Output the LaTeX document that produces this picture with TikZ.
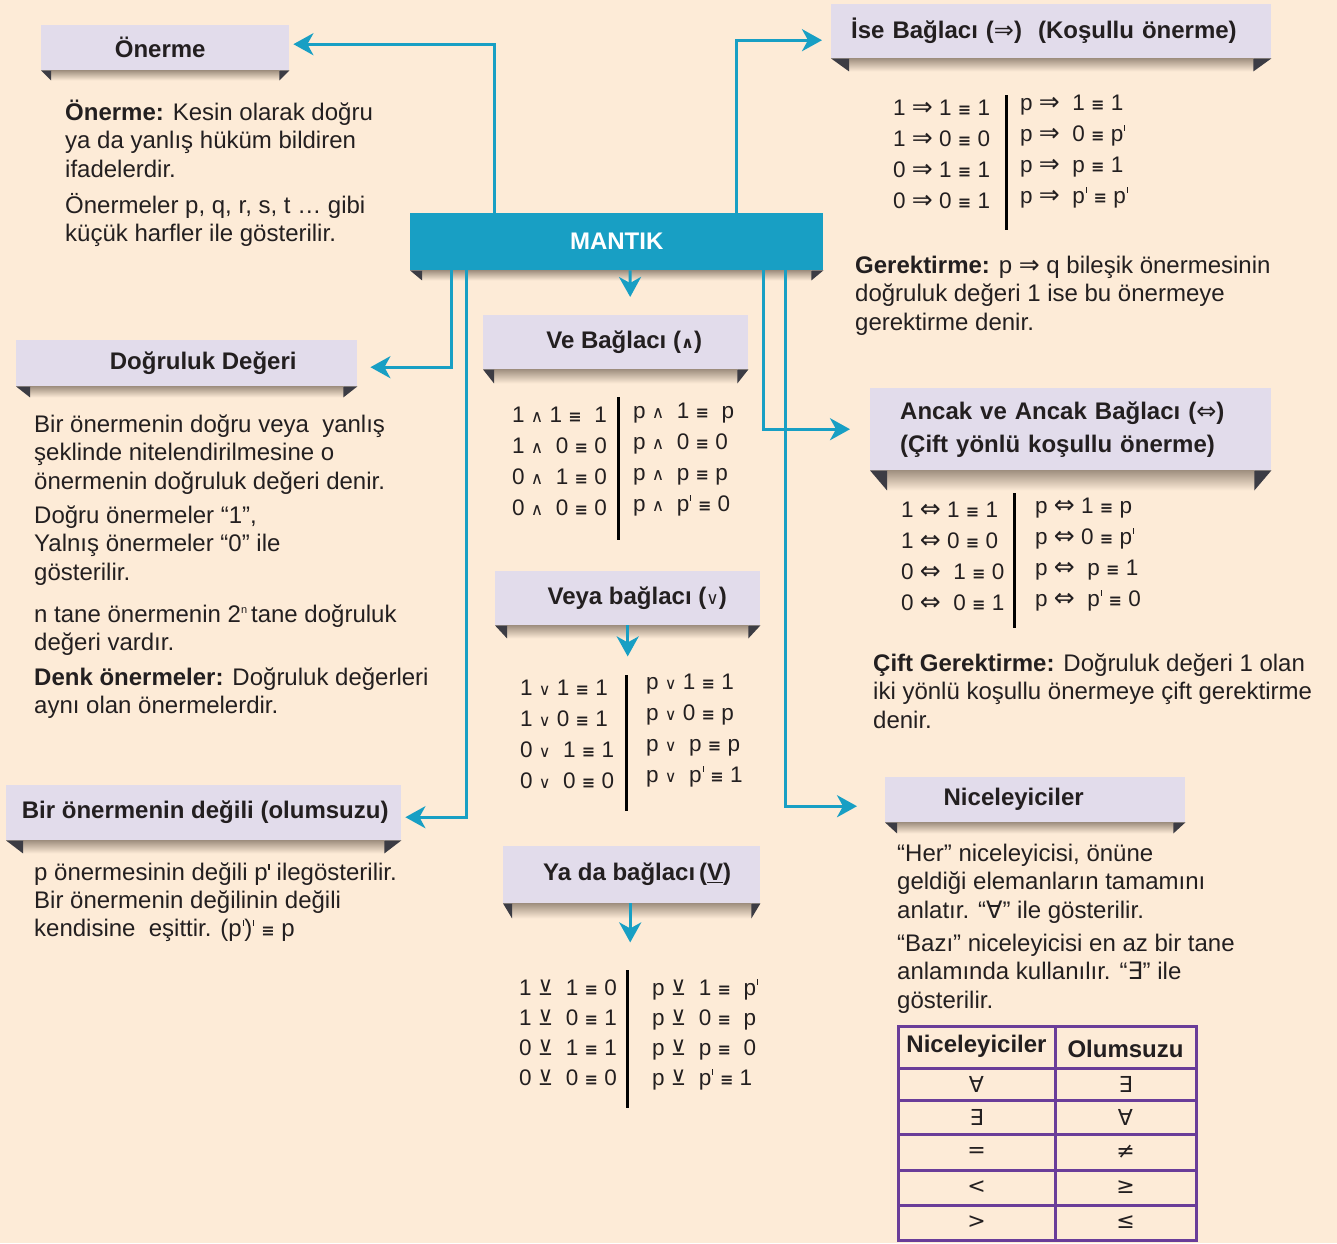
\documentclass[tikz,border=0pt]{standalone}
\usepackage{fontspec}
\setmainfont{Liberation Sans}
\newfontfamily\symf{DejaVu Sans}
\usetikzlibrary{arrows.meta,calc}
\definecolor{bg}{HTML}{FDEBD7}
\definecolor{lav}{HTML}{E2DCEB}
\definecolor{teal}{HTML}{189FC4}
\definecolor{tri}{HTML}{3C3C44}
\definecolor{shd}{HTML}{A09080}
\definecolor{ink}{HTML}{231F20}
\definecolor{purp}{HTML}{6A3D99}
\newcommand\Simp{{\symf\fontsize{25}{25}\selectfont ⇒}}
\newcommand\Siff{{\symf\fontsize{25}{25}\selectfont ⇔}}
\newcommand\Sand{{\symf\fontsize{17}{17}\selectfont ∧}}
\newcommand\Sor{{\symf\fontsize{16}{16}\selectfont ∨}}
\newcommand\Sxor{{\symf\fontsize{21}{21}\selectfont ⊻}}
\newcommand\Seq{{\symf\bfseries\fontsize{16}{16}\selectfont ≡}}
\newcommand\Sall{{\symf ∀}}
\newcommand\Sex{{\symf ∃}}
\newcommand\pr{\kern0.8pt\rule[10.5pt]{1.1pt}{5.5pt}\kern0.5pt}
\newcommand\ribbon[3]{%
  \shade[top color=shd,bottom color=bg] ($(#1.south west)+(#2pt,0pt)$) rectangle ($(#1.south east)+(-#2pt,-#3pt)$);
  \fill[tri] (#1.south west) -- ++(#2pt,0pt) -- ++(0pt,-#3pt) -- cycle;
  \fill[tri] (#1.south east) -- ++(-#2pt,0pt) -- ++(0pt,-#3pt) -- cycle;}
\begin{document}
\begin{tikzpicture}[x=1pt,y=-1pt,
  hdr/.style={fill=lav,inner sep=0pt,anchor=north west,text=ink,
    font=\bfseries\fontsize{24}{33}\selectfont},
  body/.style={anchor=base west,align=left,inner sep=0pt,text=ink,
    font=\fontsize{24}{28.5}\selectfont},
  tab/.style={anchor=base west,align=left,inner sep=0pt,text=ink,
    font=\fontsize{22.5}{31}\selectfont},
  bar/.style={draw=black,line width=3pt},
  conn/.style={draw=teal,line width=3pt,
    -{Stealth[length=20pt,width=22pt,inset=6pt]}},
  qline/.style={draw=purp,line width=3pt},
  qt/.style={inner sep=0pt,text=ink,font=\fontsize{22}{22}\selectfont}]
\fill[bg] (0,0) rectangle (1337,1243);
\useasboundingbox (0,0) rectangle (1337,1243);

% header boxes
\node[hdr,minimum width=248pt,minimum height=45pt] (oner) at (41,25) {\hspace*{-10pt}Önerme};
\node[hdr,minimum width=440pt,minimum height=54pt,text width=400pt,inner xsep=20pt,align=left] (ise) at (831,4)
  {İse Bağlacı ({\symf\mdseries ⇒})\ \ (Koşullu önerme)};
\node[hdr,minimum width=341pt,minimum height=46pt] (dog) at (16,340) {\hspace*{33pt}Doğruluk Değeri};
\node[hdr,minimum width=265pt,minimum height=54pt] (ve) at (483,315)
  {\hspace*{17pt}Ve Bağlacı ({\symf\fontsize{16}{16}\selectfont ∧})};
\node[hdr,minimum width=265pt,minimum height=54pt] (veya) at (495,571)
  {\hspace*{19pt}Veya bağlacı ({\symf\mdseries\fontsize{17}{17}\selectfont ∨})};
\node[hdr,minimum width=257pt,minimum height=57pt] (yada) at (503,846)
  {\hspace*{11pt}Ya da bağlacı\,(\underline{V})};
\node[hdr,minimum width=395pt,minimum height=55pt] (deg) at (6,785) {\hspace*{3pt}Bir önermenin değili (olumsuzu)};
\node[hdr,minimum width=401pt,minimum height=82pt,text width=341pt,inner xsep=30pt,align=left] (anc) at (870,388)
  {Ancak ve Ancak Bağlacı ({\symf\mdseries ⇔})\\(Çift yönlü koşullu önerme)};
\node[hdr,minimum width=300pt,minimum height=45pt] (nic) at (885,777) {\hspace*{-43pt}Niceleyiciler};
\node[fill=teal,inner sep=0pt,anchor=north west,minimum width=413pt,minimum height=57pt,
  text=white,font=\bfseries\fontsize{24}{24}\selectfont] (mantik) at (410,213) {MANTIK};

\ribbon{oner}{10}{10}
\ribbon{ise}{18}{13}
\ribbon{dog}{14}{11}
\ribbon{ve}{11}{14}
\ribbon{veya}{12}{13}
\ribbon{yada}{9}{15}
\ribbon{deg}{17}{13}
\ribbon{anc}{17}{20}
\ribbon{nic}{12}{11}
\ribbon{mantik}{12}{10}

% connectors
\draw[conn] ([xshift=84pt]mantik.north west) |- ([xshift=4pt,yshift=3.5pt]oner.east);
\draw[conn] ([xshift=326pt]mantik.north west) |- ([xshift=-9pt,yshift=-9pt]ise.west);
\draw[conn] ([xshift=41pt]mantik.south west) |- ([xshift=13pt,yshift=-4pt]dog.east);
\draw[conn] ([xshift=56pt]mantik.south west) |- ([xshift=4pt,yshift=-4.5pt]deg.east);
\draw[conn] ([xshift=220pt]mantik.south west) -- ([xshift=14.5pt,yshift=18pt]ve.north);
\draw[conn] ([xshift=353pt]mantik.south west) |- ([xshift=-20pt]anc.west);
\draw[conn] ([xshift=375pt]mantik.south west) |- ([xshift=-28pt,yshift=-6.5pt]nic.west);
\draw[conn] (veya.south) -- ([yshift=-31pt]veya.south);
\draw[conn] ([xshift=-1.5pt]yada.south) -- ([xshift=-1.5pt,yshift=-39pt]yada.south);

% body texts (anchored at the baseline of their last line)
\node[body] (t1) at (65,241.5) {\textbf{Önerme:} Kesin olarak doğru\\ya da yanlış hüküm bildiren\\ifadelerdir.\\[7.5pt]Önermeler p, q, r, s, t … gibi\\küçük harfler ile gösterilir.};
\node[body] (t2) at (34,713.5) {Bir önermenin doğru veya\ \ yanlış\\şeklinde nitelendirilmesine o\\önermenin doğruluk değeri denir.\\[5.5pt]Doğru önermeler “1”,\\Yalnış önermeler “0” ile\\gösterilir.\\[13.5pt]n tane önermenin 2\raisebox{9pt}{\fontsize{11}{11}\selectfont n}\,tane doğruluk\\değeri vardır.\\[6pt]\textbf{Denk önermeler:} Doğruluk değerleri\\aynı olan önermelerdir.};
\node[body,font=\fontsize{24}{28}\selectfont] (t3) at (34,936) {p önermesinin değili p\pr{} ilegösterilir.\\Bir önermenin değilinin değili\\kendisine\ \ eşittir. (p\pr)\pr{} \Seq{} p};
\node[body] (t4) at (855,330) {\textbf{Gerektirme:} p \Simp{} q bileşik önermesinin\\doğruluk değeri 1 ise bu önermeye\\gerektirme denir.};
\node[body] (t5) at (873,728) {\textbf{Çift Gerektirme:} Doğruluk değeri 1 olan\\iki yönlü koşullu önermeye çift gerektirme\\denir.};
\node[body] (t6) at (897,1008) {“Her” niceleyicisi, önüne\\geldiği elemanların tamamını\\anlatır. “\Sall” ile gösterilir.\\[4.5pt]“Bazı” niceleyicisi en az bir tane\\anlamında kullanılır. “\Sex” ile\\gösterilir.};

% truth tables
\draw[bar] (1006,95) -- (1006,230);
\node[tab] (iseL) at (893,208) {1 \Simp{} 1 \Seq{} 1\\1 \Simp{} 0 \Seq{} 0\\0 \Simp{} 1 \Seq{} 1\\0 \Simp{} 0 \Seq{} 1};
\node[tab] (iseR) at (1020,203) {p \Simp{}~ 1 \Seq{} 1\\p \Simp{}~ 0 \Seq{} p\pr\\p \Simp{}~ p \Seq{} 1\\p \Simp{}~ p\pr{} \Seq{} p\pr};

\draw[bar] (618,397) -- (618,540);
\node[tab] (veL) at (512,515) {1 \Sand{} 1 \Seq{}~ 1\\1 \Sand{}~ 0 \Seq{} 0\\0 \Sand{}~ 1 \Seq{} 0\\0 \Sand{}~ 0 \Seq{} 0};
\node[tab] (veR) at (633,511) {p \Sand{}~ 1 \Seq{}~ p\\p \Sand{}~ 0 \Seq{} 0\\p \Sand{}~ p \Seq{} p\\p \Sand{}~ p\pr{} \Seq{} 0};

\draw[bar] (626,675) -- (626,811);
\node[tab] (veyaL) at (520,788) {1 \Sor{} 1 \Seq{} 1\\1 \Sor{} 0 \Seq{} 1\\0 \Sor{}~ 1 \Seq{} 1\\0 \Sor{}~ 0 \Seq{} 0};
\node[tab] (veyaR) at (646,782) {p \Sor{} 1 \Seq{} 1\\p \Sor{} 0 \Seq{} p\\p \Sor{}~ p \Seq{} p\\p \Sor{}~ p\pr{} \Seq{} 1};

\draw[bar] (627,970) -- (627,1108);
\node[tab,font=\fontsize{22.5}{30}\selectfont] (yadaL) at (519,1085) {1 \Sxor{}~ 1 \Seq{} 0\\1 \Sxor{}~ 0 \Seq{} 1\\0 \Sxor{}~ 1 \Seq{} 1\\0 \Sxor{}~ 0 \Seq{} 0};
\node[tab,font=\fontsize{22.5}{30}\selectfont] (yadaR) at (652,1085) {p \Sxor{}~ 1 \Seq{}~ p\pr\\p \Sxor{}~ 0 \Seq{}~ p\\p \Sxor{}~ p \Seq{}~ 0\\p \Sxor{}~ p\pr{} \Seq{} 1};

\draw[bar] (1014,493) -- (1014,628);
\node[tab] (ancL) at (901,610) {1 \Siff{} 1 \Seq{} 1\\1 \Siff{} 0 \Seq{} 0\\0 \Siff{}~ 1 \Seq{} 0\\0 \Siff{}~ 0 \Seq{} 1};
\node[tab] (ancR) at (1035,606) {p \Siff{} 1 \Seq{} p\\p \Siff{} 0 \Seq{} p\pr\\p \Siff{}~ p \Seq{} 1\\p \Siff{}~ p\pr{} \Seq{} 0};

% quantifier table
\draw[qline] (898,1026) rectangle (1196,1240);
\foreach \yy in {1068,1100,1134,1170,1205} \draw[qline] (898,\yy) -- (1196,\yy);
\draw[qline] (1055,1026) -- (1055,1240);
\node[qt,font=\bfseries\fontsize{24}{24}\selectfont] (qh1) at (976.5,1046) {Niceleyiciler};
\node[qt,font=\bfseries\fontsize{24}{24}\selectfont] (qh2) at (1125.5,1049) {Olumsuzu};
\node[qt] (q11) at (976.5,1084) {\Sall};
\node[qt] (q12) at (1125.5,1084) {\Sex};
\node[qt] (q21) at (976.5,1117) {\Sex};
\node[qt] (q22) at (1125.5,1117) {\Sall};
\node[qt] (q31) at (976.5,1152) {{\symf =}};
\node[qt] (q32) at (1125.5,1152) {{\symf ≠}};
\node[qt] (q41) at (976.5,1187.5) {{\symf <}};
\node[qt] (q42) at (1125.5,1187.5) {{\symf ≥}};
\node[qt] (q51) at (976.5,1222.5) {{\symf >}};
\node[qt] (q52) at (1125.5,1222.5) {{\symf ≤}};
\end{tikzpicture}
\end{document}
